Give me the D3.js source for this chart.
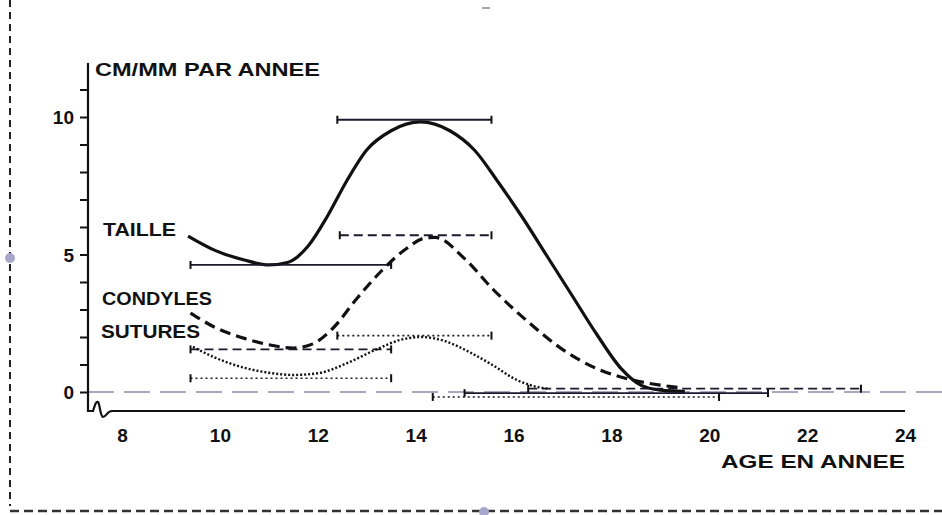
<!DOCTYPE html>
<html>
<head>
<meta charset="utf-8">
<script src="https://cdn.jsdelivr.net/npm/d3@7"></script>
<style>
  body { margin: 0; background: #fff; }
  text { font-family: "Liberation Sans", "DejaVu Sans", sans-serif; font-weight: bold; fill: #111; }
</style>
</head>
<body>
<div id="chart"></div>
<script>
// ages (x) and growth velocity (y)
var tailleAge = [9.35, 9.9, 10.5, 11.0, 11.4, 11.8, 12.2, 12.6, 13.0, 13.5, 14.1, 14.7, 15.2, 15.7, 16.2, 16.7, 17.2, 17.7, 18.2, 18.6, 19.0, 19.5];
var tailleVal = [5.67, 5.15, 4.8, 4.62, 4.72, 5.3, 6.4, 7.7, 8.8, 9.5, 9.82, 9.5, 8.8, 7.6, 6.3, 4.9, 3.5, 2.1, 0.85, 0.25, 0.07, 0.02];

var condAge = [9.4, 9.9, 10.5, 11.0, 11.5, 11.9, 12.3, 12.8, 13.3, 13.8, 14.2, 14.4, 15.0, 15.6, 16.3, 17.0, 17.7, 18.4, 19.0, 19.4];
var condVal = [2.87, 2.35, 1.95, 1.72, 1.6, 1.75, 2.3, 3.4, 4.4, 5.2, 5.6, 5.62, 4.85, 3.7, 2.55, 1.55, 0.85, 0.45, 0.25, 0.16];

var sutAge = [9.45, 9.9, 10.5, 11.0, 11.5, 12.0, 12.6, 13.2, 13.7, 14.1, 14.6, 15.1, 15.6, 16.0, 16.4, 16.7];
var sutVal = [1.64, 1.25, 0.88, 0.7, 0.62, 0.68, 1.05, 1.55, 1.9, 2.0, 1.85, 1.45, 0.95, 0.5, 0.22, 0.12];

// horizontal ranges: [from age, to age, level]
var tailleRanges = [[12.4, 15.55, 9.9], [9.4, 13.5, 4.62], [15.0, 21.2, -0.04]];
var condRanges = [[12.45, 15.55, 5.7], [9.4, 13.5, 1.55], [16.3, 23.1, 0.12]];
var sutRanges = [[12.4, 15.55, 2.05], [9.4, 13.5, 0.5], [14.35, 20.2, -0.18]];

var xTicks = [8, 10, 12, 14, 16, 18, 20, 22, 24];
var yTicks = [0, 1, 2, 3, 4, 5, 6, 7, 8, 9, 10, 11];
var yLabels = [0, 5, 10];

var width = 942, height = 515;

var x = d3.scaleLinear().domain([8, 24]).range([122, 905]);
var y = d3.scaleLinear().domain([0, 10]).range([392, 117]);

var svg = d3.select('#chart').append('svg')
    .attr('width', width)
    .attr('height', height);

// page frame (dashed border of the scan)
svg.append('line')
    .attr('x1', 10).attr('y1', 0).attr('x2', 10).attr('y2', 506)
    .style('stroke', '#222').style('stroke-width', 2).style('stroke-dasharray', '7,5');
svg.append('line')
    .attr('x1', 10).attr('y1', 511).attr('x2', 942).attr('y2', 511)
    .style('stroke', '#333').style('stroke-width', 2.5).style('stroke-dasharray', '9,5');
svg.append('circle').attr('cx', 10).attr('cy', 258).attr('r', 5).style('fill', '#a9a6cc');
svg.append('circle').attr('cx', 484).attr('cy', 512).attr('r', 5).style('fill', '#a9a6cc');
svg.append('line').attr('x1', 482).attr('x2', 490).attr('y1', 8).attr('y2', 8)
    .style('stroke', '#888').style('stroke-width', 1.5);

// zero line
svg.append('line')
    .attr('x1', 88).attr('x2', 942).attr('y1', y(0)).attr('y2', y(0))
    .style('stroke', '#8f8bab').style('stroke-width', 1.6).style('stroke-dasharray', '26,10');

// y axis
var yAxis = d3.axisLeft(y).tickValues(yTicks).tickSize(8)
    .tickFormat(function(d) { return yLabels.indexOf(d) >= 0 ? d : ''; });
var gy = svg.append('g').attr('transform', 'translate(88,0)').call(yAxis);
gy.select('.domain').remove();
gy.selectAll('.tick line').style('stroke', '#111').style('stroke-width', 2);
gy.selectAll('.tick text').attr('x', -14).attr('dy', '0.36em')
    .style('font-size', '19px').style('font-family', '"Liberation Sans", sans-serif').style('font-weight', 'bold');

svg.append('path')
    .attr('d', 'M88,63 L88,411 L93,411 C95,405 96,401 98,402 C100,404 100,416 103,417 C106,417 107,411 112,411 L905,411')
    .style('fill', 'none').style('stroke', '#111').style('stroke-width', 2.2);

// x axis labels
var xAxis = d3.axisBottom(x).tickValues(xTicks).tickSize(0).tickPadding(0);
var gx = svg.append('g').attr('transform', 'translate(0,425)').call(xAxis);
gx.select('.domain').remove();
gx.selectAll('.tick text').attr('dy', '0.9em')
    .style('font-size', '19px').style('font-family', '"Liberation Sans", sans-serif').style('font-weight', 'bold');

function label(tx, ty, len, s, anchor) {
    svg.append('text').attr('x', tx).attr('y', ty)
        .attr('text-anchor', anchor || 'start')
        .attr('textLength', len).attr('lengthAdjust', 'spacingAndGlyphs')
        .style('font-size', '18px').text(s);
}
label(95, 76, 225, 'CM/MM PAR ANNEE');
label(905, 468, 184, 'AGE EN ANNEE', 'end');
label(103, 236, 73, 'TAILLE');
label(102, 305, 110, 'CONDYLES');
label(101, 338, 99, 'SUTURES');

var line = d3.line()
    .x(function(d) { return x(d[0]); })
    .y(function(d) { return y(d[1]); })
    .curve(d3.curveMonotoneX);

function series(ages, vals, ranges, dash, lw, rw, rdash) {
    svg.append('path')
        .datum(d3.zip(ages, vals))
        .attr('d', line)
        .style('fill', 'none').style('stroke', '#111')
        .style('stroke-width', lw).style('stroke-dasharray', dash);
    var g = svg.append('g').selectAll('g').data(ranges).enter().append('g');
    g.append('line')
        .attr('x1', function(d) { return x(d[0]); })
        .attr('x2', function(d) { return x(d[1]); })
        .attr('y1', function(d) { return y(d[2]); })
        .attr('y2', function(d) { return y(d[2]); })
        .style('stroke', '#1a1a2e').style('stroke-width', rw).style('stroke-dasharray', rdash);
    [0, 1].forEach(function(k) {
        g.append('line')
            .attr('x1', function(d) { return x(d[k]); })
            .attr('x2', function(d) { return x(d[k]); })
            .attr('y1', function(d) { return y(d[2]) - 4; })
            .attr('y2', function(d) { return y(d[2]) + 4; })
            .style('stroke', '#111').style('stroke-width', 2);
    });
}

series(tailleAge, tailleVal, tailleRanges, null, 3.2, 1.8, null);
series(condAge, condVal, condRanges, '11,6', 3.2, 1.8, '9,5');
series(sutAge, sutVal, sutRanges, '2,2', 2.4, 1.6, '2,3');
</script>
</body>
</html>
